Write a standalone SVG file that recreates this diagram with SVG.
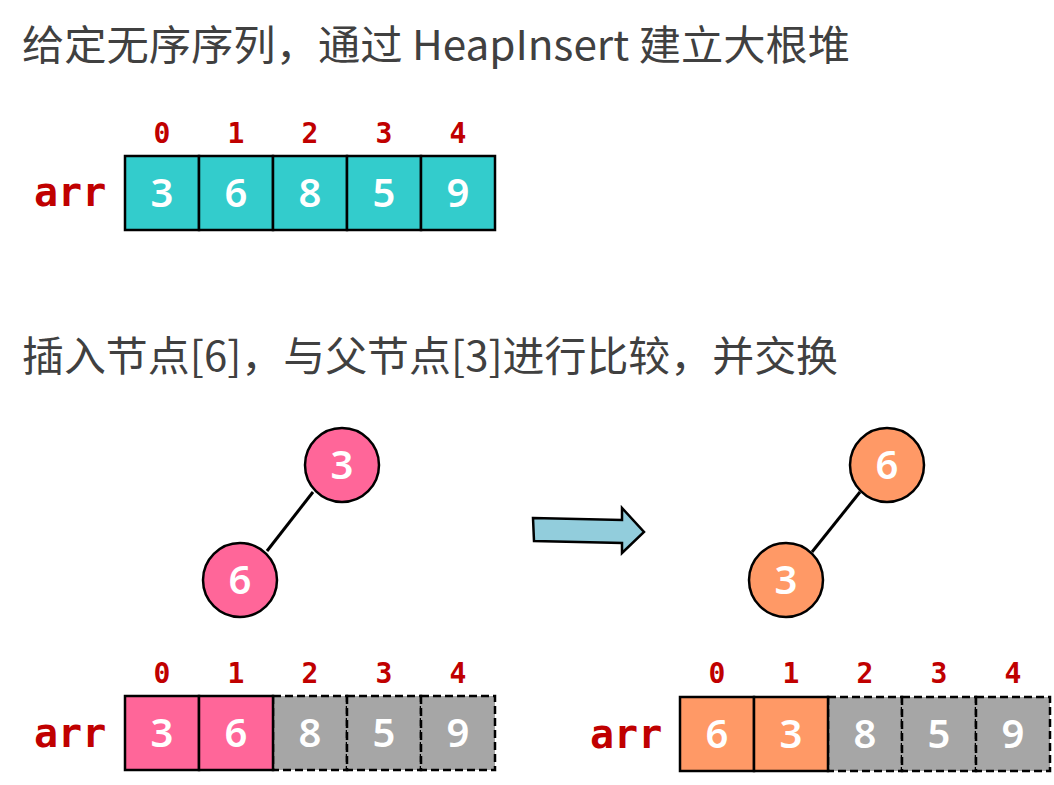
<svg xmlns="http://www.w3.org/2000/svg" width="1054" height="785" viewBox="0 0 1054 785">
<style>
.title{font-family:"Noto Sans CJK SC","Noto Sans",sans-serif;font-size:41px;fill:#404040}
.idx{font-family:"DejaVu Sans Mono","Liberation Mono",monospace;font-weight:bold;font-size:28px;fill:#C00000;text-anchor:middle}
.arr{font-family:"DejaVu Sans Mono","Liberation Mono",monospace;font-weight:bold;font-size:40px;fill:#C00000}
.num{font-family:"Noto Sans","Open Sans",sans-serif;font-weight:600;font-size:40px;fill:#fff;text-anchor:middle}
.teal{fill:#33CCCC;stroke:#000;stroke-width:2.5}
.pink{fill:#FF6699;stroke:#000;stroke-width:2.5}
.orange{fill:#FF9966;stroke:#000;stroke-width:2.5}
.gray{fill:#A6A6A6;stroke:#000;stroke-width:2.5;stroke-dasharray:8 4}
.edge{stroke:#000;stroke-width:3;fill:none}
</style>
<rect width="1054" height="785" fill="#fff"/>
<text class="title" x="22" y="60" textLength="828" lengthAdjust="spacingAndGlyphs">给定无序序列，通过 HeapInsert 建立大根堆</text>
<text class="title" x="22" y="371" textLength="816" lengthAdjust="spacingAndGlyphs">插入节点[6]，与父节点[3]进行比较，并交换</text>

<g id="array-top">
<text class="arr" x="34" y="206">arr</text>
<g class="idx"><text x="162" y="143">0</text><text x="236" y="143">1</text><text x="310" y="143">2</text><text x="384" y="143">3</text><text x="458" y="143">4</text></g>
<rect class="teal" x="125" y="156" width="74" height="74"/>
<rect class="teal" x="199" y="156" width="74" height="74"/>
<rect class="teal" x="273" y="156" width="74" height="74"/>
<rect class="teal" x="347" y="156" width="74" height="74"/>
<rect class="teal" x="421" y="156" width="74" height="74"/>
<text class="num" x="162" y="207">3</text><text class="num" x="236" y="207">6</text><text class="num" x="310" y="207">8</text><text class="num" x="384" y="207">5</text><text class="num" x="458" y="207">9</text>
</g>

<g id="connectors">
<line class="edge" x1="313" y1="492" x2="267" y2="551"/>
<line class="edge" x1="860" y1="492" x2="812" y2="552"/>
<polygon points="533,518 622,520 622,508 644,532 622,553 622,543 534,541" fill="#92CDDC" stroke="#000" stroke-width="2.5" stroke-linejoin="miter"/>
</g>

<g id="tree-left-3"><circle class="pink" cx="342" cy="465" r="37"/><text class="num" x="342" y="479">3</text></g>
<g id="tree-left-6"><circle class="pink" cx="240" cy="580" r="37"/><text class="num" x="240" y="594">6</text></g>
<g id="tree-right-6"><circle class="orange" cx="887" cy="465" r="37"/><text class="num" x="887" y="479">6</text></g>
<g id="tree-right-3"><circle class="orange" cx="786" cy="580" r="37"/><text class="num" x="786" y="594">3</text></g>

<g id="array-left">
<text class="arr" x="34" y="747">arr</text>
<g class="idx"><text x="162" y="683">0</text><text x="236" y="683">1</text><text x="310" y="683">2</text><text x="384" y="683">3</text><text x="458" y="683">4</text></g>
<rect class="gray" x="273" y="696" width="74" height="74"/>
<rect class="gray" x="347" y="696" width="74" height="74"/>
<rect class="gray" x="421" y="696" width="74" height="74"/>
<rect class="pink" x="125" y="696" width="74" height="74"/>
<rect class="pink" x="199" y="696" width="74" height="74"/>
<text class="num" x="162" y="747">3</text><text class="num" x="236" y="747">6</text><text class="num" x="310" y="747">8</text><text class="num" x="384" y="747">5</text><text class="num" x="458" y="747">9</text>
</g>

<g id="array-right">
<text class="arr" x="590" y="748">arr</text>
<g class="idx"><text x="717" y="683">0</text><text x="791" y="683">1</text><text x="865" y="683">2</text><text x="939" y="683">3</text><text x="1013" y="683">4</text></g>
<rect class="gray" x="828" y="697" width="74" height="74"/>
<rect class="gray" x="902" y="697" width="74" height="74"/>
<rect class="gray" x="976" y="697" width="74" height="74"/>
<rect class="orange" x="680" y="697" width="74" height="74"/>
<rect class="orange" x="754" y="697" width="74" height="74"/>
<text class="num" x="717" y="748">6</text><text class="num" x="791" y="748">3</text><text class="num" x="865" y="748">8</text><text class="num" x="939" y="748">5</text><text class="num" x="1013" y="748">9</text>
</g>
</svg>
